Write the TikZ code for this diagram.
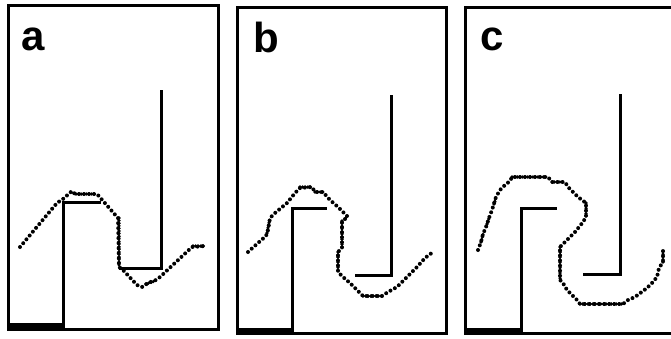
\documentclass[tikz,border=0pt]{standalone}
\usepackage{fontspec}
\setmainfont{Liberation Sans}
\begin{document}
\begin{tikzpicture}[x=1pt,y=-1pt,
  frame/.style={line width=3pt,black},
  wire/.style={line width=3pt,black},
  base/.style={line width=6pt,black},
  sparse/.style={line width=4pt,line cap=round,dash pattern=on 0pt off 5pt,black},
  dense/.style={line width=3.6pt,line cap=round,dash pattern=on 0pt off 2.6pt,black},
  panellabel/.style={font=\fontsize{42}{42}\selectfont\bfseries,inner sep=0pt,anchor=base}]
\useasboundingbox (0,0) rectangle (671,338);
\fill[white] (0,0) rectangle (671,338);

% ---------- panel a ----------
\draw[frame] (8,5) rectangle (218,329);
\draw[base] (8,326) -- (63,326);
\node[panellabel] (la) at (33,50) {a};
\draw[wire] (63,328) -- (63,202) -- (101,202);
\draw[wire] (161,90) -- (161,268) -- (119,268);
\draw[sparse] (20,247) -- (57,203) -- (63,199) -- (72,191) -- (75,194) -- (97,194)
  -- (118,218) -- (119,267) -- (123,270) -- (137,285) -- (142,287) -- (148,283)
  -- (156,280) -- (160,277) -- (192,247) -- (205,246);
\draw[dense] (76,194) -- (96,194);
\draw[dense] (119,218) -- (119,266);
\draw[dense] (146,284) -- (155,281);
\draw[dense] (193,246) -- (205,246);

% ---------- panel b ----------
\draw[frame] (237,7) rectangle (446,333);
\draw[base] (237,331) -- (292,331);
\node[panellabel] (lb) at (266,52) {b};
\draw[wire] (292,333) -- (292,208) -- (327,208);
\draw[wire] (391,95) -- (391,275) -- (355,275);
\draw[sparse] (248,252) -- (258,243) -- (266,236) -- (268,230) -- (270,218) -- (275,213)
  -- (287,203) -- (295,193) -- (300,188) -- (312,187) -- (315,192) -- (323,192)
  -- (330,200) -- (338,207) -- (348,217) -- (342,221) -- (342,248) -- (338,252)
  -- (338,272) -- (343,277) -- (350,283) -- (357,290) -- (363,296) -- (382,296)
  -- (388,292) -- (397,287) -- (407,277) -- (417,267) -- (425,258) -- (433,252);
\draw[dense] (267,233) -- (270,218);
\draw[dense] (300,187) -- (312,187);
\draw[dense] (315,192) -- (323,192);
\draw[dense] (342,221) -- (342,248);
\draw[dense] (338,252) -- (338,272);
\draw[dense] (363,296) -- (382,296);

% ---------- panel c ----------
\draw[frame] (672,7) -- (465,7) -- (465,333) -- (672,333);
\draw[base] (465,331) -- (520,331);
\node[panellabel] (lc) at (492,50) {c};
\draw[wire] (521,333) -- (521,208) -- (557,208);
\draw[wire] (620,94) -- (620,274) -- (583,274);
\draw[sparse] (478,250) -- (481,242) -- (483,234) -- (486,227) -- (489,218) -- (492,210)
  -- (496,197) -- (500,190) -- (505,185) -- (510,181) -- (512,177) -- (548,177)
  -- (552,182) -- (565,182) -- (568,187) -- (578,197) -- (586,203) -- (586,217)
  -- (583,222) -- (575,232) -- (565,242) -- (560,247) -- (560,280) -- (563,283)
  -- (567,290) -- (572,295) -- (577,300) -- (580,304) -- (623,304) -- (628,300)
  -- (635,297) -- (647,288) -- (652,283) -- (657,277) -- (659,268) -- (663,262)
  -- (663,250);
\draw[dense] (481,242) -- (483,234);
\draw[dense] (487,224) -- (489,218);
\draw[dense] (494,204) -- (496,197);
\draw[dense] (512,177) -- (548,177);
\draw[dense] (552,182) -- (565,182);
\draw[dense] (586,203) -- (586,217);
\draw[dense] (560,247) -- (560,280);
\draw[dense] (580,304) -- (623,304);
\draw[dense] (663,262) -- (663,250);
\end{tikzpicture}
\end{document}
